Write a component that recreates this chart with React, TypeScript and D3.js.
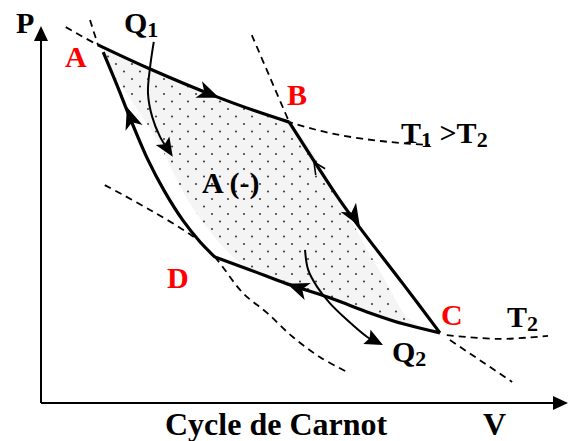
import React from "react";
import * as d3 from "d3";

const width = 571;
const height = 441;

// V and P in arbitrary units (0..10 on both axes)
const curveAB: [number, number][] = [
  [1.08, 9.5], [2.07, 8.86], [3.34, 8.12], [4.06, 7.75], [4.71, 7.45],
];
const curveBC: [number, number][] = [
  [4.71, 7.45], [5.67, 5.38], [6.11, 4.54], [6.87, 3.16], [7.57, 1.86],
];
const curveCD: [number, number][] = [
  [7.57, 1.86], [6.87, 2.1], [6.24, 2.39], [5.48, 2.79], [4.67, 3.16], [3.97, 3.53], [3.3, 3.87],
];
const curveDA: [number, number][] = [
  [3.3, 3.87], [3.02, 4.27], [2.69, 4.85], [2.35, 5.6], [2.03, 6.45], [1.69, 7.56], [1.44, 8.44], [1.18, 9.31],
];

// shaded area (slightly inset from the cycle, as in the original)
const shadeArea: [number, number][] = [
  [1.22, 9.3], [2.07, 8.83], [3.34, 8.12], [4.06, 7.75], [4.71, 7.43],
  [5.67, 5.38], [6.09, 4.32], [6.53, 3.26], [6.91, 2.33], [7.19, 2.02],
  [6.87, 2.12], [6.24, 2.39], [5.48, 2.79], [4.67, 3.18], [3.87, 3.61],
  [2.87, 5.2], [2.2, 6.98],
];

// dashed isotherms / adiabats
const isoT1: [number, number][] = [
  [0.47, 9.97], [1.08, 9.5], [2.07, 8.86], [3.34, 8.12], [4.06, 7.75], [4.71, 7.45],
  [5.48, 7.16], [6.43, 6.95], [7.38, 6.84],
];
const isoT2Right: [number, number][] = [[7.7, 1.8], [8.71, 1.7], [9.62, 1.78]];
const lowerDashed: [number, number][] = [
  [1.21, 5.78], [2.07, 5.12], [2.92, 4.38], [3.3, 3.87], [3.83, 2.92], [4.29, 2.39],
  [4.78, 1.75], [5.29, 1.22], [5.84, 0.8],
];
const adiabatA: [number, number][] = [[0.93, 10.16], [1.08, 9.5]];
const adiabatB: [number, number][] = [[4.0, 9.76], [4.35, 8.62], [4.71, 7.45]];
const adiabatC: [number, number][] = [[7.76, 1.67], [8.94, 0.56]];

// heat arrows
const arrowQ1: [number, number][] = [
  [2.14, 9.58], [2.07, 8.91], [2.03, 8.22], [2.11, 7.59], [2.26, 7.06], [2.5, 6.53],
];
const arrowQ2: [number, number][] = [
  [5.01, 4.06], [5.07, 3.53], [5.24, 3.08], [5.48, 2.65], [5.81, 2.2], [6.19, 1.75], [6.49, 1.54],
];

// direction arrows on the cycle: [tail, tip]
const cycleArrows: { tail: [number, number]; tip: [number, number] }[] = [
  { tail: [3.02, 8.3], tip: [3.38, 8.1] },
  { tail: [1.78, 7.24], tip: [1.63, 7.85] },
  { tail: [5.84, 5.17], tip: [6.05, 4.69] },
  { tail: [5.1, 2.94], tip: [4.67, 3.16] },
];
const thinArrow = { tail: [5.34, 6.05] as [number, number], tip: [5.18, 6.39] as [number, number] };

const xScale = d3.scaleLinear().domain([0, 10]).range([41, 568]);
const yScale = d3.scaleLinear().domain([0, 10]).range([403, 26]);

const line = d3
  .line<[number, number]>()
  .x((d) => xScale(d[0]))
  .y((d) => yScale(d[1]))
  .curve(d3.curveCatmullRom);

const closedLine = d3
  .line<[number, number]>()
  .x((d) => xScale(d[0]))
  .y((d) => yScale(d[1]))
  .curve(d3.curveCatmullRomClosed);

const font = "'Liberation Serif', 'Times New Roman', serif";

// stealth arrow head pointing from (x0,y0) to (x1,y1), tip at (x1,y1)
function stealth(x0: number, y0: number, x1: number, y1: number, len = 22, hw = 9, notch = 6) {
  const a = Math.atan2(y1 - y0, x1 - x0);
  const c = Math.cos(a), s = Math.sin(a);
  const bx = x1 - len * c, by = y1 - len * s;
  const nx = x1 - (len - notch) * c, ny = y1 - (len - notch) * s;
  return `M${x1},${y1}L${bx - hw * s},${by + hw * c}L${nx},${ny}L${bx + hw * s},${by - hw * c}Z`;
}

function tipOf(pts: [number, number][]) {
  const a = pts[pts.length - 2];
  const b = pts[pts.length - 1];
  return [xScale(a[0]), yScale(a[1]), xScale(b[0]), yScale(b[1])];
}

const Sub = ({ children }: { children: React.ReactNode }) => (
  <tspan fontSize={22} dy={4}>{children}</tspan>
);

export default function App() {
  const q1 = tipOf(arrowQ1);
  const q2 = tipOf(arrowQ2);
  const th = [xScale(thinArrow.tail[0]), yScale(thinArrow.tail[1]), xScale(thinArrow.tip[0]), yScale(thinArrow.tip[1])];
  const tha = Math.atan2(th[3] - th[1], th[2] - th[0]);
  const x0 = xScale(0);
  const y0 = yScale(0);

  return (
    <svg
      width={width}
      height={height}
      style={{ position: "absolute", left: 0, top: 0, background: "#fff" }}
    >
      <defs>
        <pattern id="dots" width={16} height={15} patternUnits="userSpaceOnUse">
          <rect width={16} height={15} fill="#f4f4f4" />
          <circle cx={4} cy={4} r={1.1} fill="#444" />
          <circle cx={12} cy={11.5} r={1.1} fill="#444" />
        </pattern>
      </defs>

      <path d={closedLine(shadeArea) ?? ""} fill="url(#dots)" stroke="none" />

      {/* dashed curves */}
      <g fill="none" stroke="#000" strokeWidth={1.8} strokeDasharray="7,5">
        {[isoT1, isoT2Right, lowerDashed, adiabatA, adiabatB, adiabatC].map((c, i) => (
          <path key={i} d={line(c) ?? ""} />
        ))}
      </g>

      {/* cycle */}
      <g fill="none" stroke="#000" strokeWidth={3.2} strokeLinejoin="round">
        {[curveAB, curveBC, curveCD, curveDA].map((c, i) => (
          <path key={i} d={line(c) ?? ""} />
        ))}
      </g>
      {cycleArrows.map((a, i) => (
        <path
          key={i}
          d={stealth(xScale(a.tail[0]), yScale(a.tail[1]), xScale(a.tip[0]), yScale(a.tip[1]))}
          fill="#000"
        />
      ))}
      <path
        d={`M${th[2] - 13 * Math.cos(tha - 0.45)},${th[3] - 13 * Math.sin(tha - 0.45)}L${th[2]},${th[3]}L${th[2] - 13 * Math.cos(tha + 0.45)},${th[3] - 13 * Math.sin(tha + 0.45)}`}
        fill="none"
        stroke="#000"
        strokeWidth={1.6}
      />

      {/* heat arrows */}
      <g fill="none" stroke="#000" strokeWidth={2}>
        <path d={line(arrowQ1.slice(0, -1).concat([[2.44, 6.66]])) ?? ""} />
        <path d={line(arrowQ2.slice(0, -1).concat([[6.35, 1.62]])) ?? ""} />
      </g>
      <path d={stealth(q1[0], q1[1], q1[2], q1[3], 19, 8, 4)} fill="#000" />
      <path d={stealth(q2[0], q2[1], q2[2], q2[3], 18, 8, 3)} fill="#000" />

      {/* axes */}
      <g stroke="#000" strokeWidth={2}>
        <line x1={x0} y1={y0} x2={x0} y2={yScale(10) + 12} />
        <line x1={x0} y1={y0} x2={xScale(10) - 12} y2={y0} />
      </g>
      <path d={`M${x0},${yScale(10)}L${x0 - 7},${yScale(10) + 15}L${x0 + 7},${yScale(10) + 15}Z`} fill="#000" />
      <path d={`M${xScale(10)},${y0}L${xScale(10) - 15},${y0 - 7}L${xScale(10) - 15},${y0 + 7}Z`} fill="#000" />

      {/* labels */}
      <g fontFamily={font} fontWeight="bold" fontSize={30} fill="#000">
        <text x={16} y={33}>P</text>
        <text x={124} y={33}>Q<Sub>1</Sub></text>
        <text x={202} y={193}>A (-)</text>
        <text x={401} y={143}>T<Sub>1</Sub><tspan dy={-4}> &gt;T</tspan><Sub>2</Sub></text>
        <text x={507} y={327}>T<Sub>2</Sub></text>
        <text x={392} y={362}>Q<Sub>2</Sub></text>
        <text x={165} y={435} fontSize={32}>Cycle de Carnot</text>
        <text x={483} y={435} fontSize={32}>V</text>
      </g>
      <g fontFamily={font} fontWeight="bold" fontSize={30} fill="#ff0000">
        <text x={65} y={67}>A</text>
        <text x={287} y={105}>B</text>
        <text x={441} y={325}>C</text>
        <text x={167} y={288}>D</text>
      </g>
    </svg>
  );
}
